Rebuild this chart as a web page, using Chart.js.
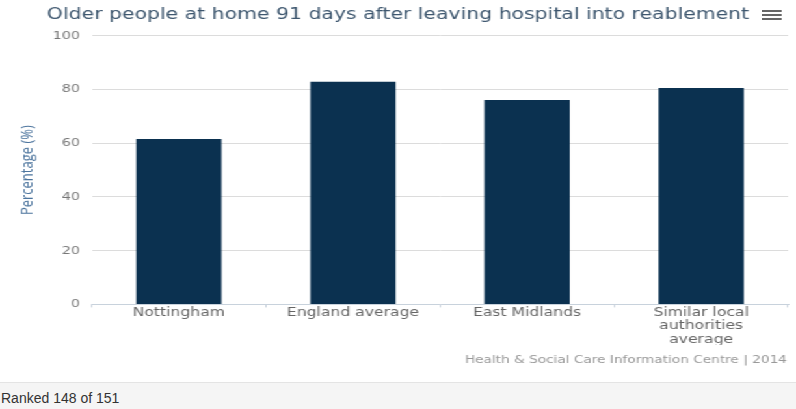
<!DOCTYPE html>
<html>
<head>
    <title>Older people at home 91 days after leaving hospital into reablement</title>
    <script src="https://cdn.jsdelivr.net/npm/chart.js"></script>
    <style>
        body { margin: 0; background: #fff; width: 796px; height: 409px; overflow: hidden; position: relative; }
        #wrap { position: absolute; left: 0; top: 0; width: 612px; height: 380px; transform: scaleX(1.3007); transform-origin: 0 0; }
        #menu { position: absolute; left: 586px; top: 10px; width: 15px; }
        #menu span { display: block; height: 2px; background: #666; margin-bottom: 2px; }
        #rank { position: absolute; left: 0; top: 382px; width: 796px; height: 27px; background: #f5f5f5;
                border-top: 1px solid #e4e4e4; font: 14px "Liberation Sans", Arial, sans-serif; color: #333;
                line-height: 30px; padding-left: 1px; box-sizing: border-box; }
    </style>
</head>
<body>
    <div id="wrap">
        <canvas id="reablementChart" width="612" height="380"></canvas>
        <div id="menu"><span></span><span></span><span></span></div>
    </div>
    <div id="rank">Ranked 148 of 151</div>
    <script>
        const categories = ['Nottingham', 'England average', 'East Midlands', ['Similar local', 'authorities', 'average']];
        const percentages = [61.6, 82.9, 76.1, 80.6];
        const yTicks = [0, 20, 40, 60, 80, 100];
        const creditText = 'Health & Social Care Information Centre | 2014';

        // credits line under the axis, like the original
        const credits = {
            id: 'credits',
            afterDraw(chart) {
                const ctx = chart.ctx;
                ctx.save();
                ctx.font = '10.5px "DejaVu Sans"';
                ctx.fillStyle = '#999';
                ctx.textAlign = 'right';
                ctx.textBaseline = 'middle';
                ctx.fillText(creditText, 605, 360);
                ctx.restore();
            }
        };

        const ctx = document.getElementById('reablementChart').getContext('2d');
        new Chart(ctx, {
            type: 'bar',
            data: {
                labels: categories,
                datasets: [{
                    label: 'Percentage',
                    data: percentages,
                    backgroundColor: '#0b3150',
                    categoryPercentage: 1,
                    barPercentage: 0.49
                }]
            },
            options: {
                responsive: false,
                animation: false,
                layout: { padding: { left: 6, right: 6, bottom: 35, top: 0 } },
                plugins: {
                    legend: { display: false },
                    tooltip: { enabled: false },
                    title: {
                        display: true,
                        text: 'Older people at home 91 days after leaving hospital into reablement',
                        color: '#3E576F',
                        font: { family: 'DejaVu Sans', size: 15.7, weight: 'normal' },
                        padding: { top: 6, bottom: 11 }
                    }
                },
                scales: {
                    x: {
                        grid: { drawOnChartArea: false, drawTicks: true, tickLength: 3, color: '#c8d2dc' },
                        border: { color: '#c8d2dc' },
                        ticks: {
                            color: '#666',
                            maxRotation: 0,
                            padding: -1,
                            font: { family: 'DejaVu Sans', size: 12, lineHeight: 1.1 }
                        }
                    },
                    y: {
                        min: 0,
                        max: 100,
                        afterBuildTicks(scale) { scale.ticks = yTicks.map(v => ({ value: v })); },
                        grid: { color: '#dcdcdc', drawTicks: false },
                        border: { display: false },
                        ticks: {
                            color: '#777',
                            padding: 9,
                            font: { family: 'DejaVu Sans', size: 11 }
                        },
                        title: {
                            display: true,
                            text: 'Percentage (%)',
                            color: '#4d759e',
                            font: { family: 'Open Sans', size: 13 },
                            padding: { top: 7, bottom: 3 }
                        }
                    }
                }
            },
            plugins: [credits]
        });
    </script>
</body>
</html>
